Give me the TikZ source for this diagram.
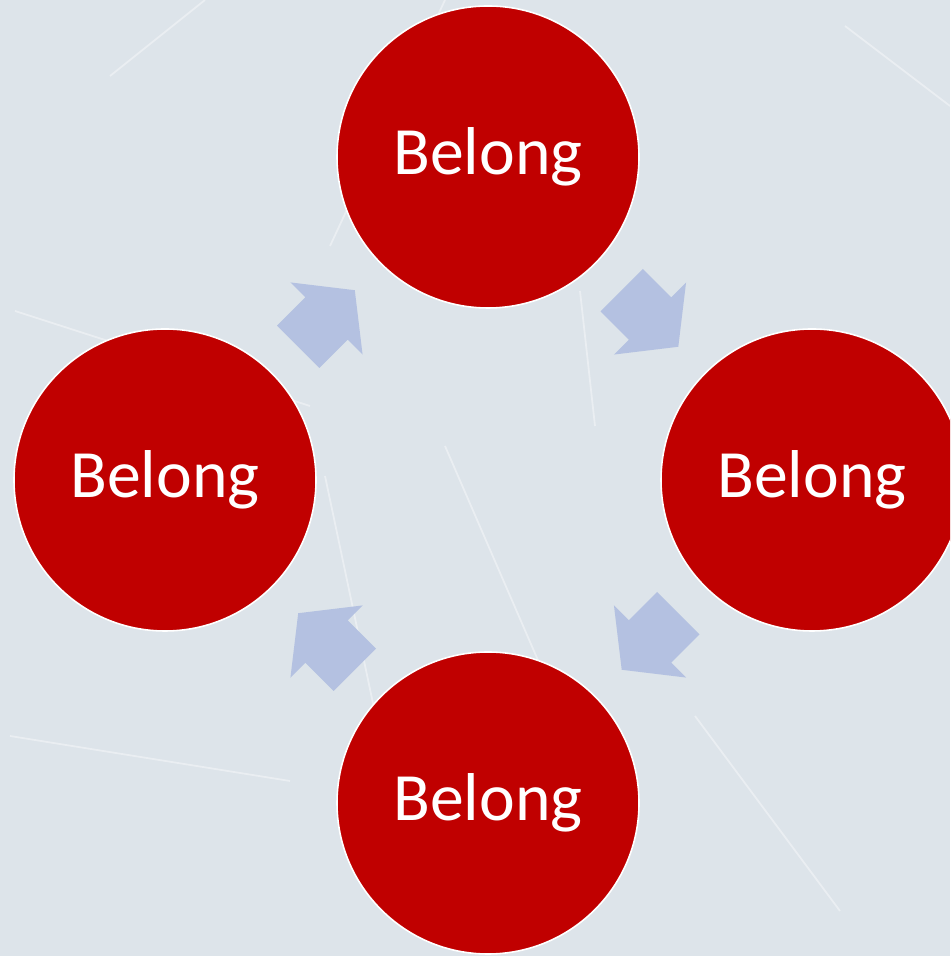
\documentclass[tikz,border=0pt]{standalone}
\usepackage{fontspec}
\setmainfont{Carlito}
\usetikzlibrary{calc}
\definecolor{belongred}{RGB}{192,0,0}
\definecolor{arrowblue}{RGB}{180,193,225}
\definecolor{ice}{RGB}{221,228,234}
\tikzset{
  belong/.style={circle,fill=belongred,draw=white,line width=0.9pt,minimum size=6.04cm,
    inner sep=0pt,text=white,font=\fontsize{38.5}{40}\selectfont},
  cyclearrow/.pic={\fill[arrowblue] (-0.8,-0.6) -- (0,-0.6) -- (0,-1.02) -- (0.8,0)
    -- (0,1.02) -- (0,0.6) -- (-0.8,0.6) -- cycle;},
  scratch/.style={white,opacity=0.4,line width=1pt}
}
\begin{document}
\begin{tikzpicture}
\useasboundingbox (0,0) rectangle (19,19.12);
\clip (0,0) rectangle (19,19.12);
\fill[ice] (0,0) rectangle (19,19.12);
\draw[scratch] (2.2,17.6) -- (4.1,19.12);
\draw[scratch] (6.6,14.2) -- (8.9,19.12);
\draw[scratch] (0.3,12.9) -- (6.2,11.0);
\draw[scratch] (6.5,9.6) -- (8.4,0.6);
\draw[scratch] (8.9,10.2) -- (11.2,4.9);
\draw[scratch] (11.6,13.3) -- (11.9,10.6);
\draw[scratch] (13.9,4.8) -- (16.8,0.9);
\draw[scratch] (16.9,18.6) -- (19,17.0);
\draw[scratch] (0.2,4.4) -- (5.8,3.5);
\node[belong] (1)at(9.76,15.98){Belong};
\node[belong] (2)at(16.24,9.52){Belong};
\node[belong] (3)at(9.76,3.06){Belong};
\node[belong] (4)at(3.30,9.52){Belong};
\pic[rotate=-45] at ($(1)!.5!(2)$) {cyclearrow};
\pic[rotate=225] at ($(2)!.5!(3)$) {cyclearrow};
\pic[rotate=135] at ($(3)!.5!(4)$) {cyclearrow};
\pic[rotate=45] at ($(4)!.5!(1)$) {cyclearrow};
\end{tikzpicture}
\end{document}
